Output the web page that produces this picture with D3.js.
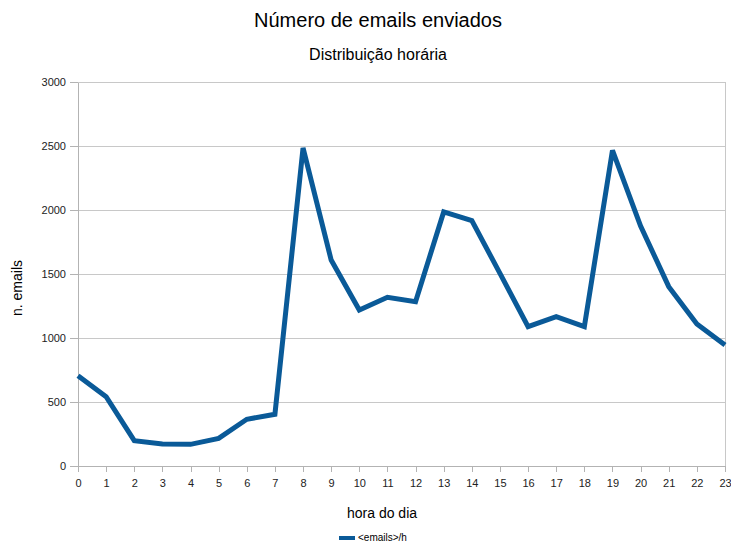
<!DOCTYPE html>
<html><head><meta charset="utf-8">
<script src="https://cdn.jsdelivr.net/npm/d3@7"></script>
<style>body{margin:0;background:#fff}svg{display:block;font-family:"Liberation Sans",Arial,sans-serif}</style>
</head><body>
<svg id="c" width="731" height="544"></svg>
<script>
const hours = d3.range(0,24);
const emails = [705,541,198,172,169,216,365,404,2485,1609,1219,1318,1284,1985,1917,1505,1089,1167,1089,2466,1875,1401,1109,945];
const yTicks = [0,500,1000,1500,2000,2500,3000];
const title = "Número de emails enviados";
const subtitle = "Distribuição horária";
const xLabel = "hora do dia";
const yLabel = "n. emails";
const seriesName = "<emails>/h";

const svg = d3.select("#c");
const L=78,R=725,T=82,B=466;
const x = d3.scaleLinear().domain([0,23]).range([L,R]);
const y = d3.scaleLinear().domain([0,3000]).range([B,T]);

// gridlines
svg.append("g").selectAll("line").data(yTicks).join("line")
  .attr("x1",L).attr("x2",R).attr("y1",d=>y(d)).attr("y2",d=>y(d))
  .attr("stroke","#c8c8c8").attr("stroke-width",1).attr("shape-rendering","crispEdges");
// right border
svg.append("line").attr("x1",R).attr("x2",R).attr("y1",T).attr("y2",B)
  .attr("stroke","#c8c8c8").attr("shape-rendering","crispEdges");

const yAxis = d3.axisLeft(y).tickValues(yTicks).tickFormat(d3.format("d")).tickSize(8).tickPadding(4).tickSizeOuter(0);
const gy = svg.append("g").attr("transform",`translate(${L},0)`).call(yAxis);
const xAxis = d3.axisBottom(x).tickValues(hours).tickFormat(d3.format("d")).tickSize(6).tickPadding(7).tickSizeOuter(0);
const gx = svg.append("g").attr("transform",`translate(0,${B})`).call(xAxis);
[gx,gy].forEach(g=>{
  g.select(".domain").attr("stroke","#b3b3b3").attr("shape-rendering","crispEdges");
  g.selectAll(".tick line").attr("stroke","#b3b3b3").attr("shape-rendering","crispEdges");
  g.selectAll("text").attr("font-size",11).attr("fill","#222").attr("font-family","Liberation Sans, Arial, sans-serif");
});

// line
svg.append("path").datum(hours)
  .attr("d", d3.line().x(d=>x(d)).y(d=>y(emails[d])))
  .attr("fill","none").attr("stroke","#0a5a98").attr("stroke-width",5).attr("stroke-linejoin","miter").attr("stroke-miterlimit",3);

// titles
svg.append("text").attr("x",378).attr("y",27).attr("text-anchor","middle").attr("font-size",20).attr("fill","#000").text(title);
svg.append("text").attr("x",378).attr("y",60).attr("text-anchor","middle").attr("font-size",16).attr("fill","#000").text(subtitle);
svg.append("text").attr("x",382).attr("y",518).attr("text-anchor","middle").attr("font-size",14).attr("fill","#000").text(xLabel);
svg.append("text").attr("transform","translate(22,288) rotate(-90)").attr("text-anchor","middle").attr("font-size",14).attr("fill","#000").text(yLabel);

// legend
const lg = svg.append("g");
lg.append("line").attr("x1",339).attr("x2",355).attr("y1",538).attr("y2",538).attr("stroke","#0a5a98").attr("stroke-width",4);
lg.append("text").attr("x",358).attr("y",541).attr("font-size",10).attr("fill","#000").text(seriesName);
</script>
</body></html>
